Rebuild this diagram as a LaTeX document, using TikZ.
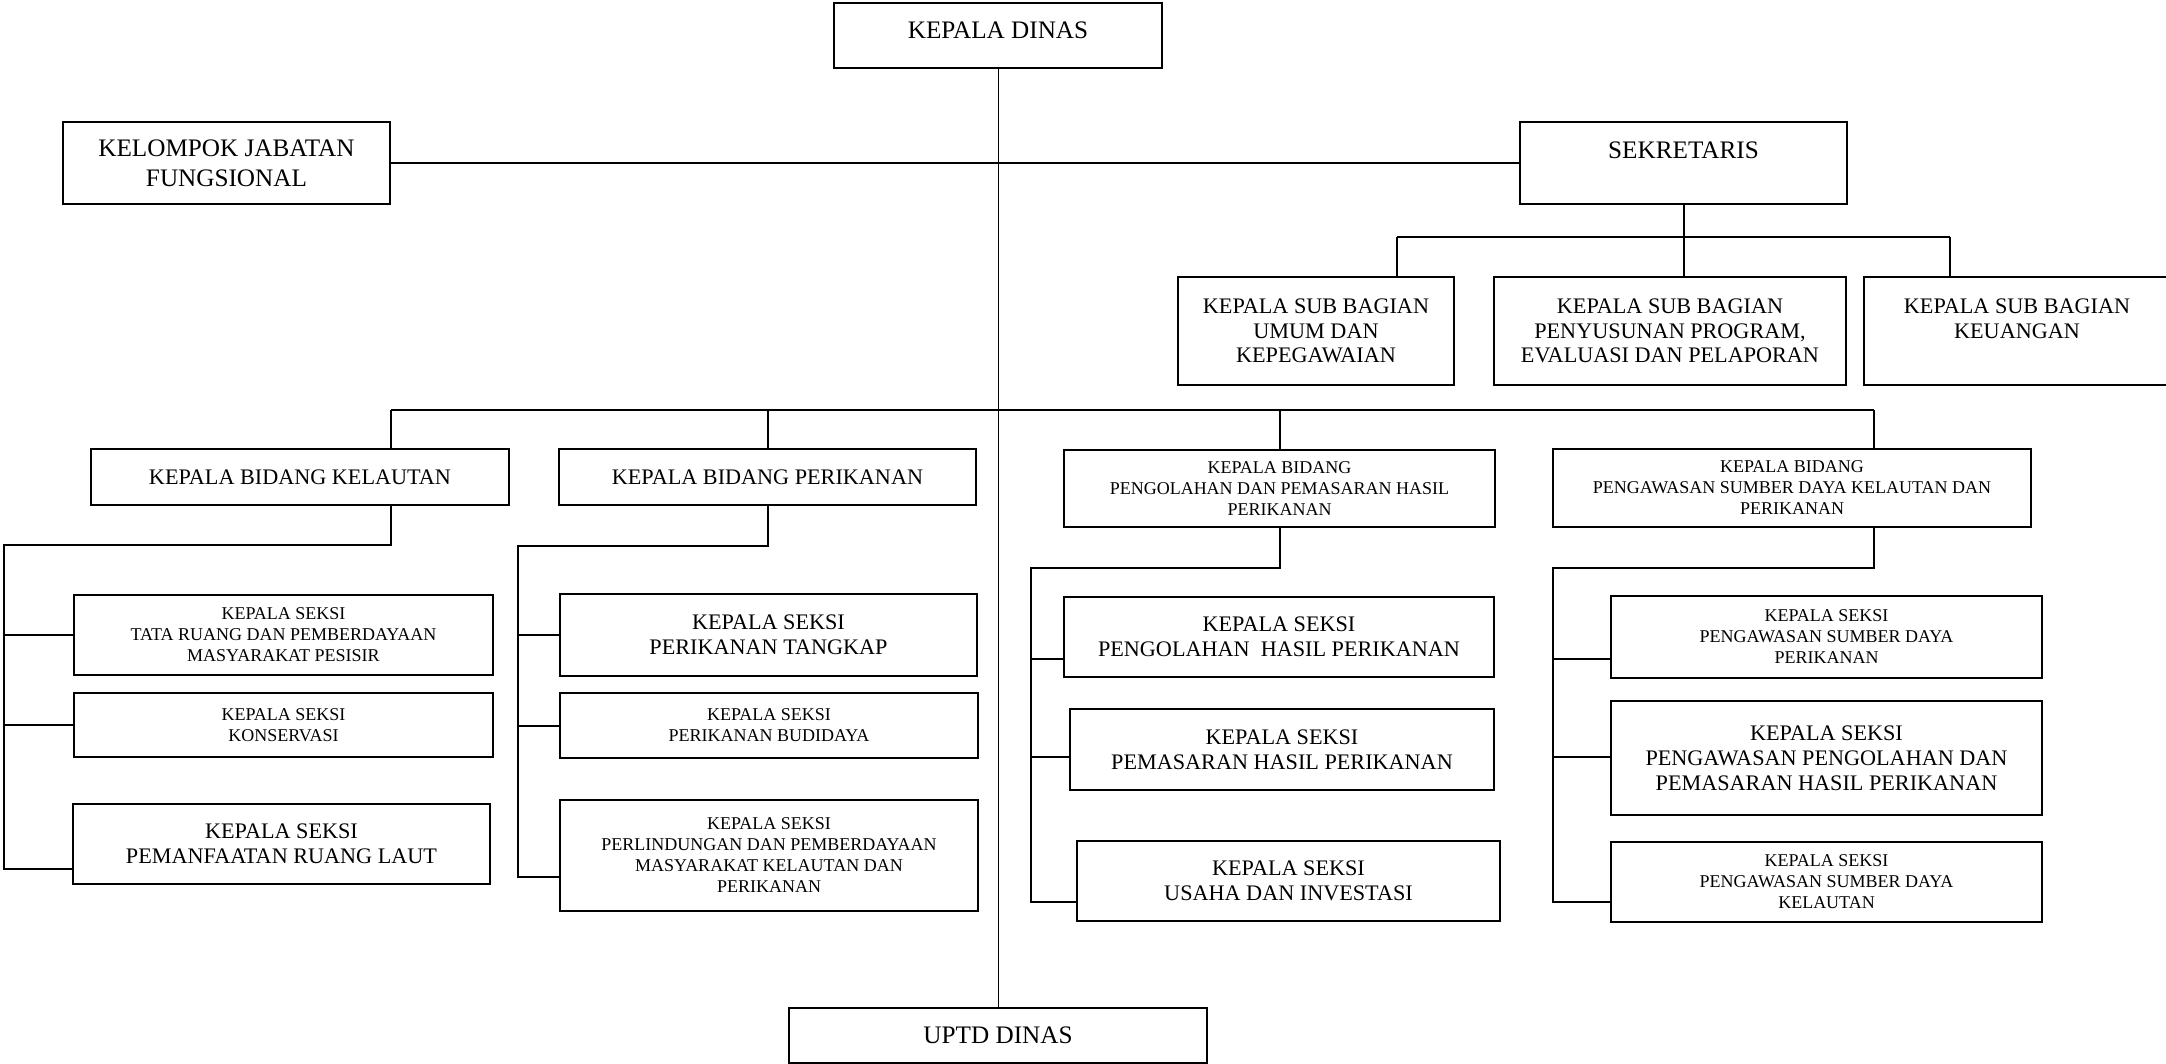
\documentclass[tikz,border=0pt]{standalone}
\usepackage{fontspec}
\setmainfont{Liberation Serif}
\begin{document}
\begin{tikzpicture}[x=0.5pt,y=-0.5pt,
    box/.style={draw, line width=1pt, inner sep=0pt, align=center},
    bigtxt/.style={font=\fontsize{12.6}{15}\selectfont},
    midtxt/.style={font=\fontsize{11.1}{12.4}\selectfont},
    smalltxt/.style={font=\fontsize{9}{10.5}\selectfont},
    link/.style={line width=1pt}]
        \useasboundingbox (0,0) rectangle (2166,1064);
        %% top level
        \node[box,bigtxt,minimum width=164pt,minimum height=32.5pt,text depth=5.5pt] (kadis) at (998,35.5) {KEPALA DINAS};
        \node[box,bigtxt,minimum width=163.5pt,minimum height=41pt] (kjf) at (226.5,163) {KELOMPOK JABATAN\\FUNGSIONAL};
        \node[box,bigtxt,minimum width=163.5pt,minimum height=41pt,text depth=13pt] (sekr) at (1683.5,163) {SEKRETARIS};
        \node[box,bigtxt,minimum width=209pt,minimum height=27.5pt] (uptd) at (998,1035.5) {UPTD DINAS};
        %% sub bagian
        \node[box,midtxt,minimum width=138pt,minimum height=54pt] (sbumum) at (1316,331) {KEPALA SUB BAGIAN\\UMUM DAN\\KEPEGAWAIAN};
        \node[box,midtxt,minimum width=176pt,minimum height=54pt] (sbprog) at (1670,331) {KEPALA SUB BAGIAN\\PENYUSUNAN PROGRAM,\\EVALUASI DAN PELAPORAN};
        \node[box,midtxt,minimum width=153pt,minimum height=54pt] (sbkeu) at (2017,331) {KEPALA SUB BAGIAN\\KEUANGAN\\\mbox{}};
        %% bidang
        \node[box,midtxt,minimum width=209pt,minimum height=28pt] (bkel) at (300,477) {KEPALA BIDANG KELAUTAN};
        \node[box,midtxt,minimum width=208.5pt,minimum height=28pt] (bper) at (767.5,477) {KEPALA BIDANG PERIKANAN};
        \node[box,smalltxt,minimum width=215.5pt,minimum height=38.5pt] (bpeng) at (1279.5,488.5) {KEPALA BIDANG\\PENGOLAHAN DAN PEMASARAN HASIL\\PERIKANAN};
        \node[box,smalltxt,minimum width=239pt,minimum height=39pt] (bpsdk) at (1792,488) {KEPALA BIDANG\\PENGAWASAN SUMBER DAYA KELAUTAN DAN\\PERIKANAN};
        %% seksi kelautan
        \node[box,smalltxt,minimum width=209.5pt,minimum height=40pt] (sktata) at (283.5,635) {KEPALA SEKSI\\TATA RUANG DAN PEMBERDAYAAN\\MASYARAKAT PESISIR};
        \node[box,smalltxt,minimum width=209.5pt,minimum height=32pt] (skkons) at (283.5,725) {KEPALA SEKSI\\KONSERVASI};
        \node[box,midtxt,minimum width=208.5pt,minimum height=40pt] (skruang) at (281.5,844) {KEPALA SEKSI\\PEMANFAATAN RUANG LAUT};
        %% seksi perikanan
        \node[box,midtxt,minimum width=208.5pt,minimum height=41pt] (sktangkap) at (768.5,635) {KEPALA SEKSI\\PERIKANAN TANGKAP};
        \node[box,smalltxt,minimum width=209pt,minimum height=32.5pt] (skbudi) at (769,725.5) {KEPALA SEKSI\\PERIKANAN BUDIDAYA};
        \node[box,smalltxt,minimum width=209pt,minimum height=55.5pt] (sklindung) at (769,855.5) {KEPALA SEKSI\\PERLINDUNGAN DAN PEMBERDAYAAN\\MASYARAKAT KELAUTAN DAN\\PERIKANAN};
        %% seksi pengolahan
        \node[box,midtxt,minimum width=215pt,minimum height=40pt] (skolah) at (1279,637) {KEPALA SEKSI\\PENGOLAHAN\ \ HASIL PERIKANAN};
        \node[box,midtxt,minimum width=212pt,minimum height=40.5pt] (skpasar) at (1282,749.5) {KEPALA SEKSI\\PEMASARAN HASIL PERIKANAN};
        \node[box,midtxt,minimum width=211.5pt,minimum height=40pt] (skusaha) at (1288.5,881) {KEPALA SEKSI\\USAHA DAN INVESTASI};
        %% seksi pengawasan
        \node[box,smalltxt,minimum width=215.5pt,minimum height=41pt] (skawasp) at (1826.5,637) {KEPALA SEKSI\\PENGAWASAN SUMBER DAYA\\PERIKANAN};
        \node[box,midtxt,minimum width=215.5pt,minimum height=57pt] (skawaso) at (1826.5,758) {KEPALA SEKSI\\PENGAWASAN PENGOLAHAN DAN\\PEMASARAN HASIL PERIKANAN};
        \node[box,smalltxt,minimum width=215.5pt,minimum height=40pt] (skawask) at (1826.5,882) {KEPALA SEKSI\\PENGAWASAN SUMBER DAYA\\KELAUTAN};
        %% trunk and sekretariat
        \draw[link,line width=0.5pt] (kadis.south) -- (uptd.north);
        \draw[link] (kjf.east) -- (sekr.west);
        \coordinate (sbL) at (1397,237);
        \coordinate (sbR) at (1950,237);
        \draw[link] (sbL) -- (sbR);
        \draw[link] (sekr.south) -- (sekr.south |- sbprog.north);
        \draw[link] (sbL) -- (sbL |- sbumum.north);
        \draw[link] (sbR) -- (sbR |- sbkeu.north);
        %% bidang bar
        \coordinate (bbL) at (391,410);
        \coordinate (bbR) at (1874,410);
        \draw[link] (bbL) -- (bbR);
        \draw[link] (bbL) -- (bbL |- bkel.north);
        \draw[link] (bper.north |- bbL) -- (bper.north);
        \draw[link] (bpeng.north |- bbL) -- (bpeng.north);
        \draw[link] (bbR) -- (bbR |- bpsdk.north);
        %% kelautan branch
        \coordinate (kelT) at (4,545);
        \coordinate (kelB) at (4,869);
        \draw[link] (bbL |- bkel.south) -- (bbL |- kelT) -- (kelT) -- (kelB) -- (kelB -| skruang.west);
        \draw[link] (kelT |- sktata.west) -- (sktata.west);
        \draw[link] (kelT |- skkons.west) -- (skkons.west);
        %% perikanan branch
        \coordinate (perT) at (518,546);
        \coordinate (perB) at (518,877);
        \draw[link] (bper.south) -- (bper.south |- perT) -- (perT) -- (perB) -- (perB -| sklindung.west);
        \draw[link] (perT |- sktangkap.west) -- (sktangkap.west);
        \draw[link] (perT |- skbudi.west) -- (skbudi.west);
        %% pengolahan branch
        \coordinate (olhT) at (1031,568);
        \coordinate (olhB) at (1031,902);
        \coordinate (olh1) at (1031,659);
        \coordinate (olh2) at (1031,757);
        \draw[link] (bpeng.south) -- (bpeng.south |- olhT) -- (olhT) -- (olhB) -- (olhB -| skusaha.west);
        \draw[link] (olh1) -- (olh1 -| skolah.west);
        \draw[link] (olh2) -- (olh2 -| skpasar.west);
        %% pengawasan branch
        \coordinate (awsT) at (1553,568);
        \coordinate (awsB) at (1553,902);
        \coordinate (aws1) at (1553,659);
        \coordinate (aws2) at (1553,757);
        \draw[link] (bbR |- bpsdk.south) -- (bbR |- awsT) -- (awsT) -- (awsB) -- (awsB -| skawask.west);
        \draw[link] (aws1) -- (aws1 -| skawasp.west);
        \draw[link] (aws2) -- (aws2 -| skawaso.west);
    \end{tikzpicture}
\end{document}
